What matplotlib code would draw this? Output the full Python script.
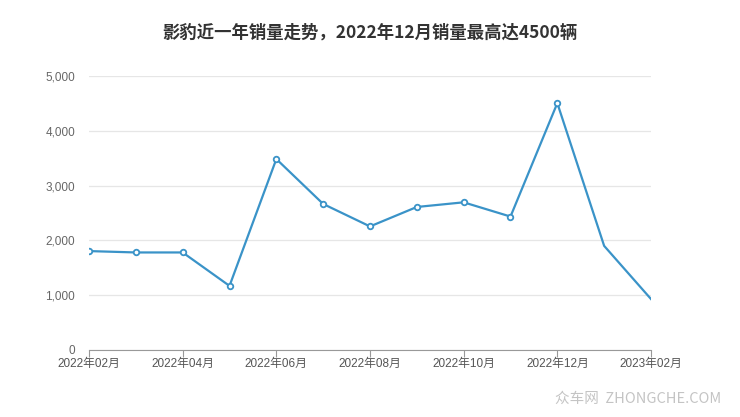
import numpy as np
import matplotlib.pyplot as plt

plt.rcParams['font.family'] = ['Noto Sans CJK SC', 'DejaVu Sans']

months = ['2022年02月', '2022年03月', '2022年04月', '2022年05月', '2022年06月', '2022年07月',
          '2022年08月', '2022年09月', '2022年10月', '2022年11月', '2022年12月', '2023年01月',
          '2023年02月']
sales = [1805, 1780, 1780, 1170, 3485, 2665, 2255, 2610, 2695, 2435, 4505, 1900, 930]
yticks = [0, 1000, 2000, 3000, 4000, 5000]

col = '#3a93c8'
x = np.arange(len(months))
tickfont = ['Liberation Sans', 'Noto Sans CJK SC']

fig = plt.figure(figsize=(7.4, 4.17), dpi=100)
ax = fig.add_axes([0.1203, 0.1607, 0.7594, 0.657])
ax.plot(x, sales, color=col, lw=1.6, zorder=3)
ax.plot(x[:11], sales[:11], ls='none', marker='o', ms=4, mfc='white', mec=col, mew=1.3, zorder=4)

ax.set_xlim(0, 12)
ax.set_ylim(0, 5000)
ax.set_yticks(yticks)
ax.set_yticklabels(['{:,}'.format(v) for v in yticks], family=tickfont)
ax.set_xticks(x[::2])
ax.set_xticklabels(months[::2], family=tickfont)
ax.grid(axis='y', color='#e6e6e6', lw=0.9)
ax.set_axisbelow(True)
for s in ['left', 'right', 'top']:
    ax.spines[s].set_visible(False)
ax.spines['bottom'].set_color('#999999')
ax.tick_params(axis='y', length=0, pad=10, labelsize=8.5, labelcolor='#666666')
ax.tick_params(axis='x', length=5, color='#999999', pad=1, labelsize=8.5, labelcolor='#555555')

fig.text(0.5, 0.922, '影豹近一年销量走势，2022年12月销量最高达4500辆', ha='center', va='center',
         fontsize=12.5, fontweight='bold', color='#333333')
fig.text(0.974, 0.044, '众车网  ZHONGCHE.COM', ha='right', va='center', fontsize=10.5, color='#c4c4c4')

fig.savefig('out.png', dpi=100)
